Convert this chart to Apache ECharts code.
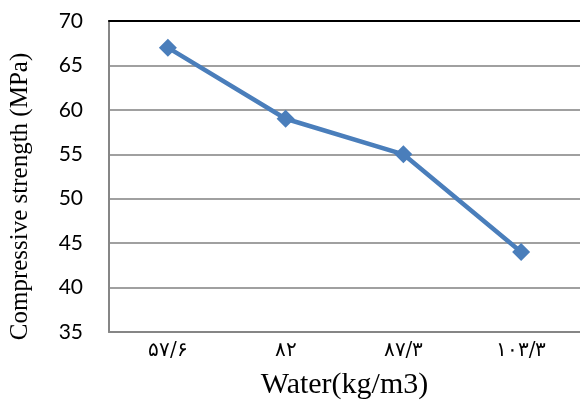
<!DOCTYPE html>
<html><head><meta charset="utf-8">
<script src="https://cdn.jsdelivr.net/npm/echarts@6/dist/echarts.min.js"></script>
<style>html,body{margin:0;padding:0;background:#fff}#c{width:580px;height:412px}</style>
</head><body><div id="c"></div>
<script>
var categories = ['۵۷/۶', '۸۲', '۸۷/۳', '۱۰۳/۳'];
var strength = [67, 59, 55, 44];
var yTicks = [35, 40, 45, 50, 55, 60, 65, 70];

var chart = echarts.init(document.getElementById('c'), null, {renderer: 'canvas'});
chart.setOption({
  animation: false,
  grid: {left: 109, right: 0, top: 21, bottom: 80, outerBoundsMode: 'none', containLabel: false},
  xAxis: [{
    type: 'category', data: categories, boundaryGap: true, position: 'bottom',
    axisLine: {lineStyle: {color: '#868686', width: 2}},
    axisTick: {show: false},
    axisLabel: {fontFamily: 'DejaVu Serif', fontSize: 20, color: '#000', margin: 9},
    name: 'Water(kg/m3)', nameLocation: 'middle', nameGap: 38,
    nameTextStyle: {fontFamily: 'Liberation Serif', fontSize: 30, color: '#000'}
  }, {
    type: 'category', data: categories, boundaryGap: true, position: 'top',
    axisLine: {lineStyle: {color: '#000', width: 2}},
    axisTick: {show: false}, axisLabel: {show: false}, splitLine: {show: false}
  }],
  yAxis: {
    type: 'value', min: yTicks[0], max: yTicks[yTicks.length - 1], interval: 5,
    axisLine: {show: true, lineStyle: {color: '#868686', width: 2}},
    axisTick: {show: false},
    splitLine: {lineStyle: {color: '#a0a0a0', width: 2}},
    axisLabel: {fontFamily: 'Lato', fontSize: 21, color: '#000', margin: 26},
    name: 'Compressive strength (MPa)', nameLocation: 'middle', nameGap: 76,
    nameTextStyle: {fontFamily: 'Liberation Serif', fontSize: 25, color: '#000', padding: [0, 40, 0, 0]}
  },
  series: [{
    type: 'line', data: strength, xAxisIndex: 0,
    lineStyle: {color: '#4a7ebb', width: 4.5},
    itemStyle: {color: '#4a7ebb'},
    symbol: 'diamond', symbolSize: 18,
    z: 5
  }]
});
</script></body></html>
